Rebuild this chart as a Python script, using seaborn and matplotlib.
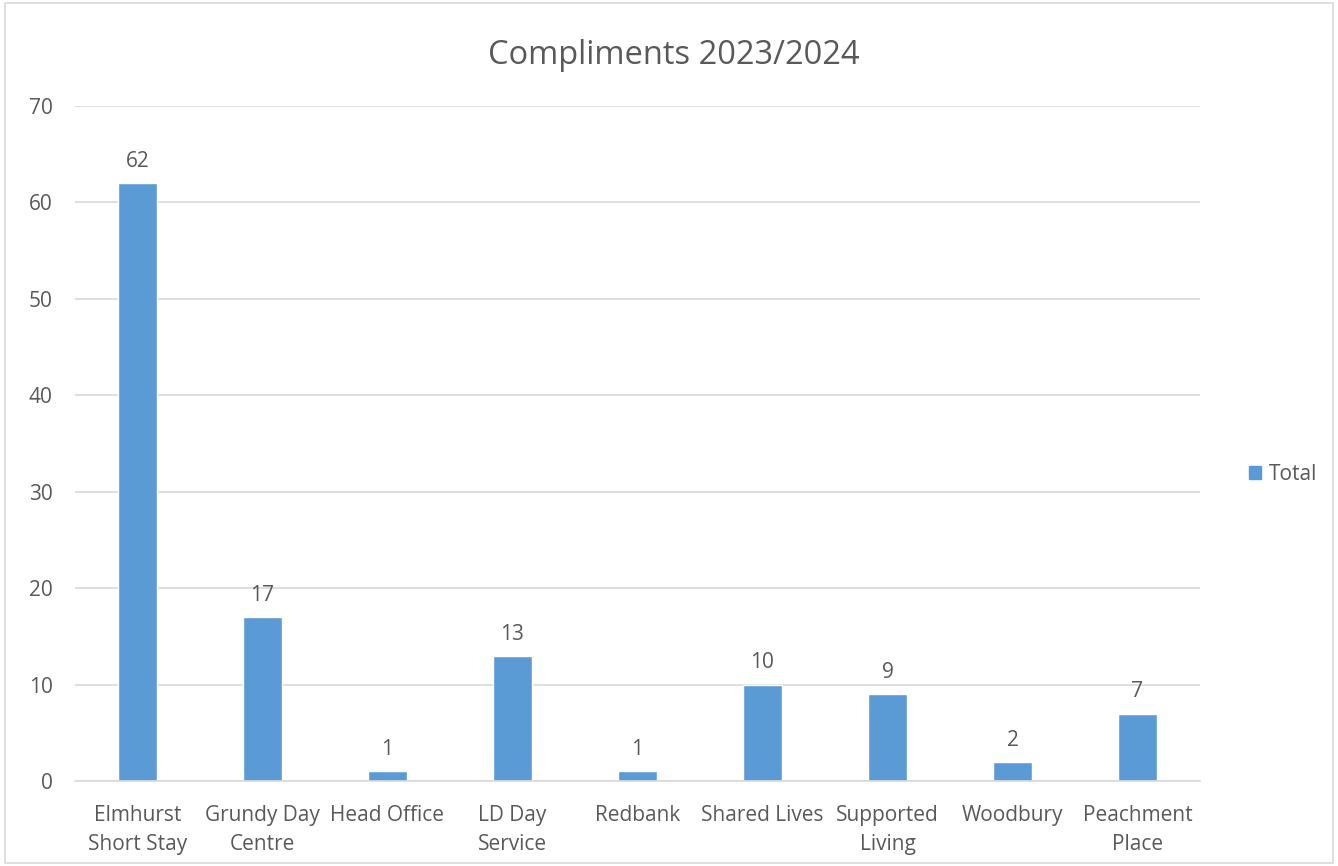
import matplotlib
matplotlib.use("Agg")
import matplotlib.pyplot as plt
import seaborn as sns
import pandas as pd
from matplotlib.patches import Patch

categories = ["Elmhurst\nShort Stay", "Grundy Day\nCentre", "Head Office", "LD Day\nService",
              "Redbank", "Shared Lives", "Supported\nLiving", "Woodbury", "Peachment\nPlace"]
values = [62, 17, 1, 13, 1, 10, 9, 2, 7]
yticks = [0, 10, 20, 30, 40, 50, 60, 70]
title = "Compliments 2023/2024"
series_name = "Total"

sns.set_theme(style="white")
plt.rcParams['font.family'] = ['Open Sans', 'DejaVu Sans']

txt = "#595959"
bar_color = "#5B9BD5"
fs = 15

fig = plt.figure(figsize=(13.38, 8.66), dpi=100)
ax = fig.add_axes([75/1338, 1-781/866, 1125/1338, (781-106)/866])

df = pd.DataFrame({"cat": categories, "val": values})
sns.barplot(data=df, x="cat", y="val", color=bar_color, width=0.31, saturation=1, ax=ax)

ax.set_ylim(0, 70)
ax.set_xlim(-0.5, len(categories) - 0.5)
ax.set_yticks(yticks)
ax.set_yticklabels([str(t) for t in yticks], color=txt, fontsize=fs)
ax.tick_params(axis="x", colors=txt, labelsize=fs, length=0, pad=17)
ax.tick_params(axis="y", length=0, pad=16)
for lbl in ax.get_xticklabels():
    lbl.set_linespacing(1.5)
ax.set_xlabel("")
ax.set_ylabel("")
ax.yaxis.grid(True, color="#D9D9D9", linewidth=1.2)
ax.set_axisbelow(True)
for s in ["top", "right", "left"]:
    ax.spines[s].set_visible(False)
ax.spines["bottom"].set_color("#D9D9D9")
ax.spines["bottom"].set_linewidth(1.2)

for c in ax.containers:
    ax.bar_label(c, labels=[str(v) for v in values], padding=8, color=txt, fontsize=fs)

fig.text(674/1338, 1-55/866, title, ha="center", va="center", color=txt, fontsize=23.5)

leg = fig.legend(handles=[Patch(color=bar_color, label=series_name)], loc="center left",
                 bbox_to_anchor=(1230/1338, 1-474/866), frameon=False, fontsize=fs,
                 handlelength=0.6, handleheight=0.6, handletextpad=0.35)
for t in leg.get_texts():
    t.set_color(txt)

border = plt.Rectangle((0.004, 0.004), 0.992, 0.992, transform=fig.transFigure,
                       fill=False, edgecolor="#D9D9D9", linewidth=1.2)
fig.patches.append(border)

fig.savefig("out.png", dpi=100)
